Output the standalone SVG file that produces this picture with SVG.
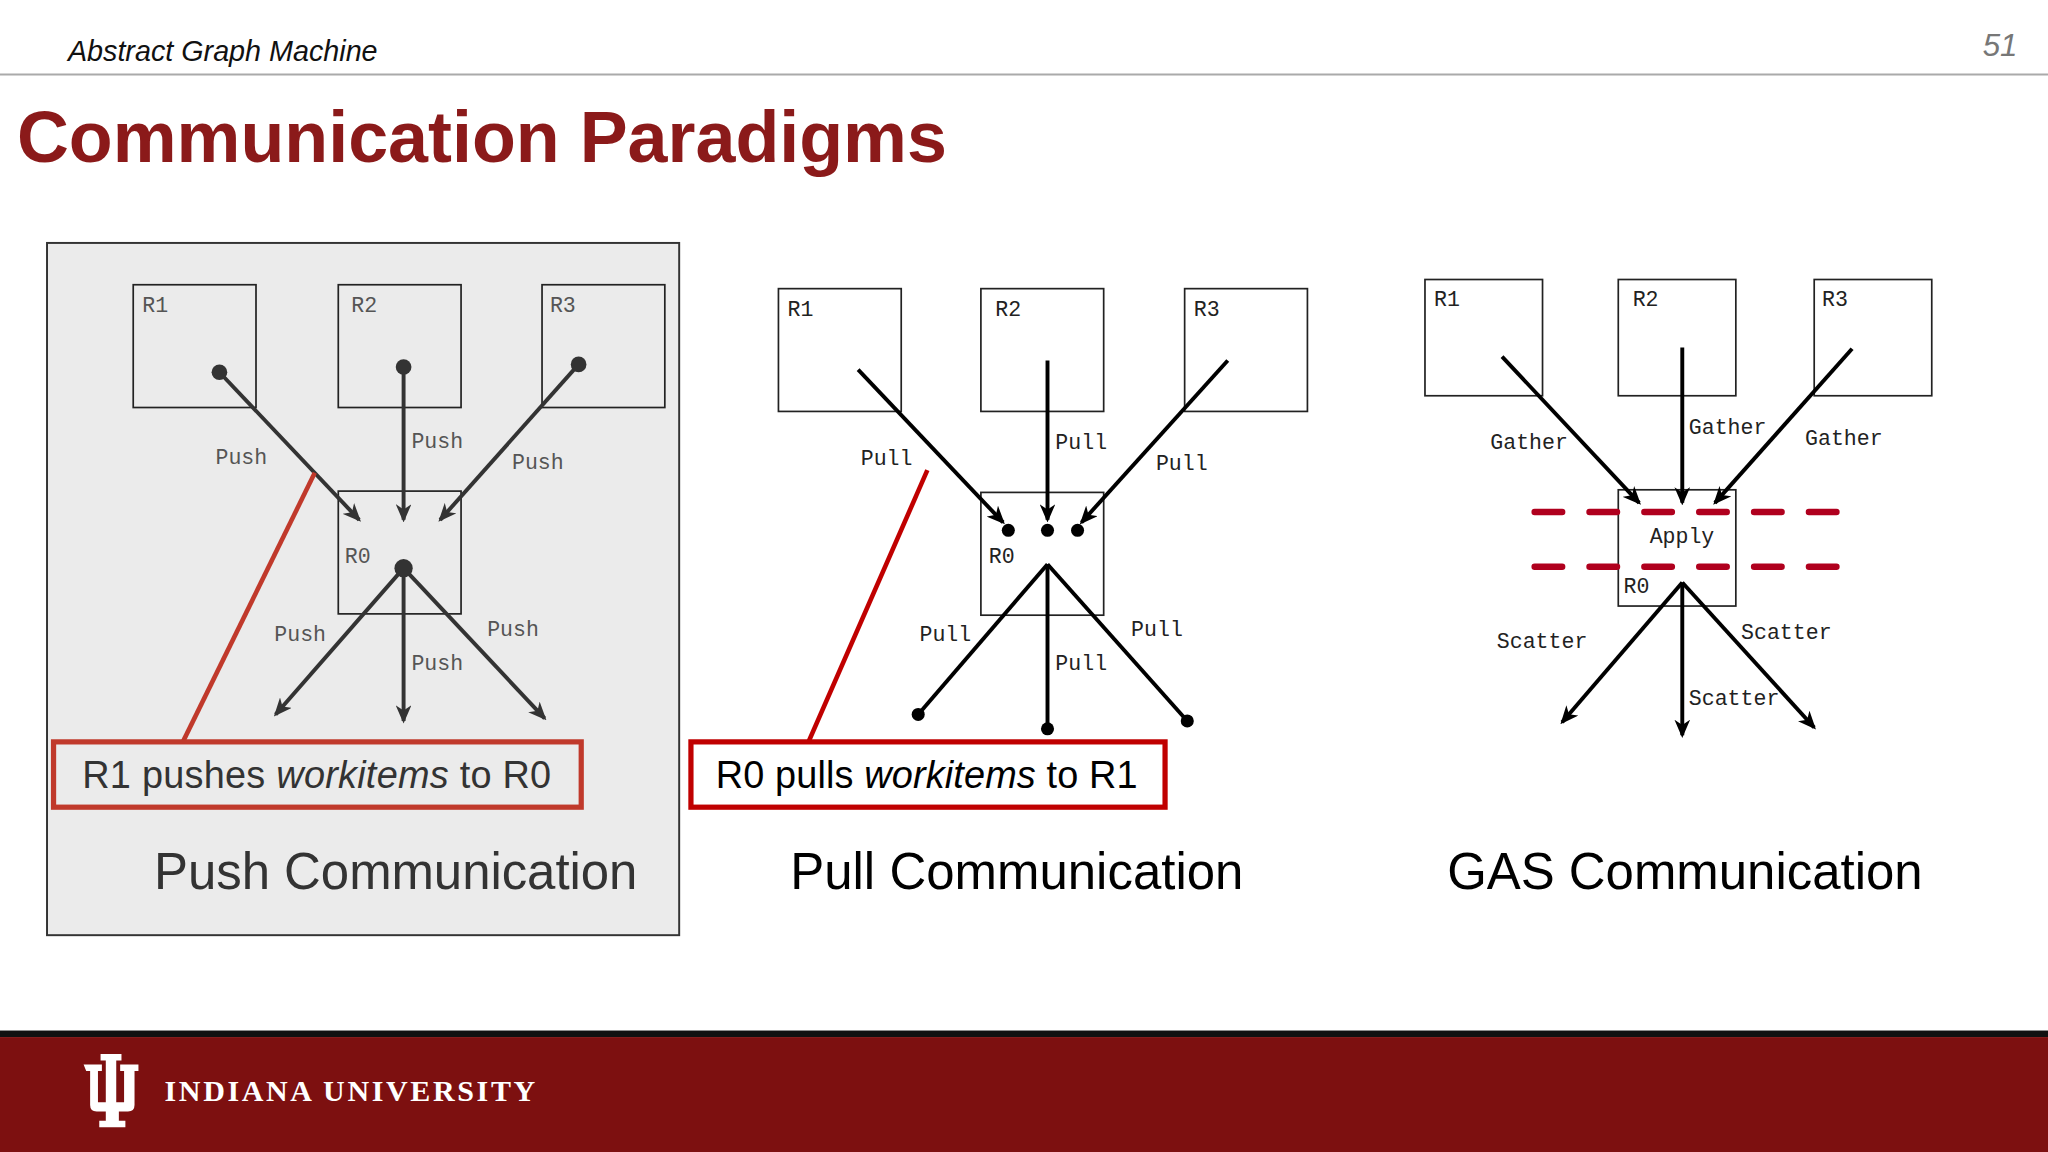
<svg xmlns="http://www.w3.org/2000/svg" width="2048" height="1152" viewBox="0 0 2048 1152">
<style>
.mono{font-family:"Liberation Mono",monospace;font-size:16.5px}
.box{fill:none;stroke:#222;stroke-width:1.3}
.sans{font-family:"Liberation Sans",Arial,sans-serif}
.ar{stroke-width:3;fill:none}
</style>
<defs>
<marker id="ah" viewBox="0 0 14 12" refX="12" refY="6" markerWidth="14" markerHeight="12" markerUnits="userSpaceOnUse" orient="auto"><path d="M0,0 L14,6 L0,12 L4,6 z" fill="#000"/></marker>
<marker id="ahg" viewBox="0 0 14 12" refX="12" refY="6" markerWidth="14" markerHeight="12" markerUnits="userSpaceOnUse" orient="auto"><path d="M0,0 L14,6 L0,12 L4,6 z" fill="#333"/></marker>
</defs>
<rect width="2048" height="1152" fill="#fff"/>
<g transform="scale(1.30612)">
<g id="header">
<text x="52" y="47" class="sans" font-size="22" font-style="italic" fill="#111">Abstract Graph Machine</text>
<text x="1518" y="43" class="sans" font-size="24" font-style="italic" fill="#777">51</text>
<line x1="0" y1="57" x2="1568" y2="57" stroke="#aaa" stroke-width="1.5"/>
<text x="13" y="124" class="sans" font-size="55" font-weight="bold" fill="#8b1a1a">Communication Paradigms</text>
</g>
<g id="push">
<rect x="36" y="186" width="484" height="530" fill="#ebebeb" stroke="#333" stroke-width="1.5"/>
<g id="push-R1"><rect x="102" y="218" width="94" height="94" class="box" stroke="#444"/><text x="109" y="239" class="mono" fill="#555">R1</text></g>
<g id="push-R2"><rect x="259" y="218" width="94" height="94" class="box" stroke="#444"/><text x="269" y="239" class="mono" fill="#555">R2</text></g>
<g id="push-R3"><rect x="415" y="218" width="94" height="94" class="box" stroke="#444"/><text x="421" y="239" class="mono" fill="#555">R3</text></g>
<g id="push-R0"><rect x="259" y="376" width="94" height="94" class="box" stroke="#444"/><text x="264" y="431" class="mono" fill="#555">R0</text></g>
<g id="push-edges" stroke="#333" fill="#333">
<line x1="168" y1="285" x2="275" y2="398" class="ar" stroke="#333" marker-end="url(#ahg)"/>
<line x1="309" y1="281" x2="309" y2="398" class="ar" stroke="#333" marker-end="url(#ahg)"/>
<line x1="443" y1="279" x2="337" y2="398" class="ar" stroke="#333" marker-end="url(#ahg)"/>
<line x1="309" y1="435" x2="211" y2="547" class="ar" stroke="#333" marker-end="url(#ahg)"/>
<line x1="309" y1="435" x2="309" y2="552" class="ar" stroke="#333" marker-end="url(#ahg)"/>
<line x1="309" y1="435" x2="417" y2="550" class="ar" stroke="#333" marker-end="url(#ahg)"/>
<circle cx="168" cy="285" r="6" stroke="none"/><circle cx="309" cy="281" r="6" stroke="none"/><circle cx="443" cy="279" r="6" stroke="none"/><circle cx="309" cy="435" r="7" stroke="none"/>
<line x1="241" y1="362" x2="140" y2="568" stroke="#c0392b" stroke-width="3.5"/>
</g>
<g class="mono" fill="#555"><text x="165" y="355">Push</text><text x="315" y="343">Push</text><text x="392" y="359">Push</text><text x="210" y="491">Push</text><text x="315" y="513">Push</text><text x="373" y="487">Push</text></g>
<g id="push-note"><rect x="41" y="568" width="404" height="50" fill="none" stroke="#c0392b" stroke-width="4"/>
<text x="63" y="603" class="sans" font-size="29" fill="#333" textLength="359">R1 pushes <tspan font-style="italic">workitems</tspan> to R0</text></g>
<text x="118" y="681" class="sans" font-size="39" fill="#333" textLength="370">Push Communication</text>
</g>
<g id="pull">
<g id="pull-R1"><rect x="596" y="221" width="94" height="94" class="box"/><text x="603" y="242" class="mono" fill="#222">R1</text></g>
<g id="pull-R2"><rect x="751" y="221" width="94" height="94" class="box"/><text x="762" y="242" class="mono" fill="#222">R2</text></g>
<g id="pull-R3"><rect x="907" y="221" width="94" height="94" class="box"/><text x="914" y="242" class="mono" fill="#222">R3</text></g>
<g id="pull-R0"><rect x="751" y="377" width="94" height="94" class="box"/><text x="757" y="431" class="mono" fill="#222">R0</text></g>
<g id="pull-edges" stroke="#000" fill="#000">
<line x1="657" y1="283" x2="768" y2="400" class="ar" stroke="#000" marker-end="url(#ah)"/>
<line x1="802" y1="276" x2="802" y2="398" class="ar" stroke="#000" marker-end="url(#ah)"/>
<line x1="940" y1="276" x2="828" y2="400" class="ar" stroke="#000" marker-end="url(#ah)"/>
<line x1="802" y1="432" x2="703" y2="547" class="ar" stroke="#000"/>
<line x1="802" y1="432" x2="802" y2="558" class="ar" stroke="#000"/>
<line x1="802" y1="432" x2="909" y2="552" class="ar" stroke="#000"/>
<g stroke="none"><circle cx="772" cy="406" r="5"/><circle cx="802" cy="406" r="5"/><circle cx="825" cy="406" r="5"/><circle cx="703" cy="547" r="5"/><circle cx="802" cy="558" r="5"/><circle cx="909" cy="552" r="5"/></g>
<line x1="710" y1="360" x2="619" y2="568" stroke="#c00000" stroke-width="3.5"/>
</g>
<g class="mono" fill="#222"><text x="659" y="356">Pull</text><text x="808" y="344">Pull</text><text x="885" y="360">Pull</text><text x="704" y="491">Pull</text><text x="808" y="513">Pull</text><text x="866" y="487">Pull</text></g>
<g id="pull-note"><rect x="529" y="568" width="363" height="50" fill="none" stroke="#c00000" stroke-width="4"/>
<text x="548" y="603" class="sans" font-size="29" fill="#000" textLength="323">R0 pulls <tspan font-style="italic">workitems</tspan> to R1</text></g>
<text x="605" y="681" class="sans" font-size="39" fill="#000" textLength="347">Pull Communication</text>
</g>
<g id="gas">
<g id="gas-R1"><rect x="1091" y="214" width="90" height="89" class="box"/><text x="1098" y="234" class="mono" fill="#222">R1</text></g>
<g id="gas-R2"><rect x="1239" y="214" width="90" height="89" class="box"/><text x="1250" y="234" class="mono" fill="#222">R2</text></g>
<g id="gas-R3"><rect x="1389" y="214" width="90" height="89" class="box"/><text x="1395" y="234" class="mono" fill="#222">R3</text></g>
<g id="gas-R0"><rect x="1239" y="375" width="90" height="89" class="box"/><text x="1263" y="416" class="mono" fill="#222">Apply</text><text x="1243" y="454" class="mono" fill="#222">R0</text></g>
<g id="gas-edges">
<line x1="1150" y1="273" x2="1255" y2="385" class="ar" stroke="#000" marker-end="url(#ah)"/>
<line x1="1288" y1="266" x2="1288" y2="385" class="ar" stroke="#000" marker-end="url(#ah)"/>
<line x1="1418" y1="267" x2="1313" y2="385" class="ar" stroke="#000" marker-end="url(#ah)"/>
<line x1="1288" y1="446" x2="1196" y2="553" class="ar" stroke="#000" marker-end="url(#ah)"/>
<line x1="1288" y1="446" x2="1288" y2="563" class="ar" stroke="#000" marker-end="url(#ah)"/>
<line x1="1288" y1="446" x2="1389" y2="557" class="ar" stroke="#000" marker-end="url(#ah)"/>
<line x1="1175" y1="392" x2="1406" y2="392" stroke="#b0001e" stroke-width="5" stroke-linecap="round" stroke-dasharray="21 21"/>
<line x1="1175" y1="434" x2="1406" y2="434" stroke="#b0001e" stroke-width="5" stroke-linecap="round" stroke-dasharray="21 21"/>
</g>
<g class="mono" fill="#222"><text x="1141" y="344">Gather</text><text x="1293" y="332">Gather</text><text x="1382" y="341">Gather</text><text x="1146" y="496">Scatter</text><text x="1333" y="489">Scatter</text><text x="1293" y="540">Scatter</text></g>
<text x="1108" y="681" class="sans" font-size="39" fill="#000" textLength="364">GAS Communication</text>
</g>
<g id="footer">
<rect x="0" y="789" width="1568" height="5" fill="#111"/>
<rect x="0" y="794" width="1568" height="88" fill="#7d1010"/>
<path d="M64,815 h14 v5 h-3 v24 h6 v-32 h-4 v-5 h16 v5 h-4 v32 h6 v-24 h-3 v-5 h14 v5 h-3 v26 q0,5 -5,5 h-7 v7 h5 v5 h-20 v-5 h5 v-7 h-7 q-5,0 -5,-5 v-26 h-3 z" fill="#fff"/>
<text x="126" y="843" font-family="Liberation Serif,serif" font-weight="bold" font-size="23" letter-spacing="2" fill="#fff">INDIANA UNIVERSITY</text>
</g>
</g>
</svg>
